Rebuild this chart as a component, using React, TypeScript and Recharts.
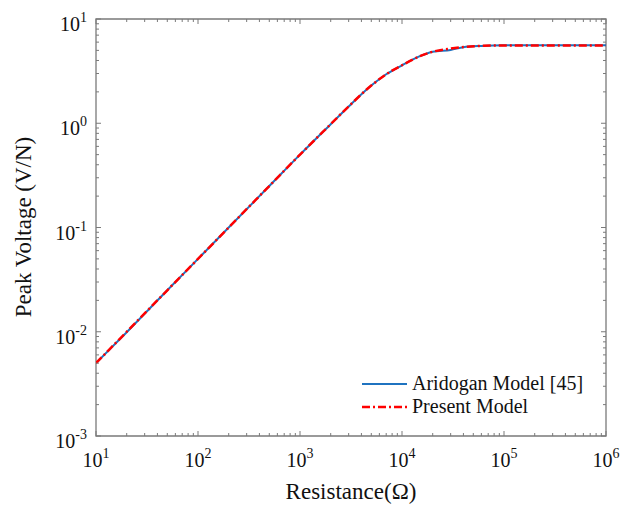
import React from 'react';
import { LineChart, Line, XAxis, YAxis, ReferenceArea } from 'recharts';

// resistance (ohm) and peak voltage (V/N)
const resistance = [10, 20, 50, 100, 200, 500, 1000, 2000, 3000, 5000, 7000, 10000, 15000, 20000, 30000, 40000, 60000, 100000, 200000, 500000, 1000000];
const aridogan = [0.005, 0.0099, 0.025, 0.05, 0.1, 0.25, 0.5, 0.98, 1.45, 2.3, 2.95, 3.6, 4.4, 4.85, 5.05, 5.36, 5.52, 5.6, 5.6, 5.6, 5.6];
const present = [0.005, 0.01, 0.025, 0.05, 0.1, 0.25, 0.5, 0.98, 1.45, 2.3, 2.95, 3.6, 4.4, 4.85, 5.2, 5.38, 5.52, 5.58, 5.58, 5.58, 5.58];

const xDecades = [10, 100, 1000, 10000, 100000, 1000000];
const yDecades = [0.001, 0.01, 0.1, 1, 10];
const minorSteps = [2, 3, 4, 5, 6, 7, 8, 9];
const legendNames = ['Aridogan Model [45]', 'Present Model'];

const withMinor = (decades: number[]) => {
  const out: number[] = [];
  decades.forEach((d, i) => {
    out.push(d);
    if (i < decades.length - 1) minorSteps.forEach((m) => out.push(d * m));
  });
  return out;
};
const xTicks = withMinor(xDecades);
const yTicks = withMinor(yDecades);

const data = resistance.map((r, i) => ({ r, aridogan: aridogan[i], present: present[i] }));

const W = 621;
const H = 511;
const PL = 96;
const PR = 606;
const PT = 19;
const PB = 436;
const AXIS = '#7a7a7a';
const FONT = '"Liberation Serif", "Times New Roman", serif';
const BLUE = '#1f73c0';
const RED = '#ff0000';
const DASH = '8 3 2 3';

const isDecade = (v: number) => {
  const l = Math.log10(v);
  return Math.abs(l - Math.round(l)) < 1e-6;
};

function XTick(props: any) {
  const { x, payload } = props;
  const v = payload.value;
  const major = isDecade(v);
  const len = major ? 5 : 3;
  return (
    <g>
      <line x1={x} x2={x} y1={PB} y2={PB - len} stroke={AXIS} strokeWidth={1} />
      <line x1={x} x2={x} y1={PT} y2={PT + len} stroke={AXIS} strokeWidth={1} />
      {major && (
        <text x={x} y={PB + 31} textAnchor="middle" fontFamily={FONT} fontSize={20} fill="#111">
          <tspan>10</tspan>
          <tspan dy={-9} fontSize={14}>{Math.round(Math.log10(v))}</tspan>
        </text>
      )}
    </g>
  );
}

function YTick(props: any) {
  const { y, payload } = props;
  const v = payload.value;
  const major = isDecade(v);
  const len = major ? 5 : 3;
  return (
    <g>
      <line x1={PL} x2={PL + len} y1={y} y2={y} stroke={AXIS} strokeWidth={1} />
      <line x1={PR} x2={PR - len} y1={y} y2={y} stroke={AXIS} strokeWidth={1} />
      {major && (
        <text x={PL - 9} y={y + 12} textAnchor="end" fontFamily={FONT} fontSize={20} fill="#111">
          <tspan>10</tspan>
          <tspan dy={-9} fontSize={14}>{Math.round(Math.log10(v))}</tspan>
        </text>
      )}
    </g>
  );
}

function LegendBox() {
  const styles = [
    { color: BLUE, dash: undefined as string | undefined, w: 2 },
    { color: RED, dash: DASH, w: 2.5 },
  ];
  return (
    <div style={{ position: 'absolute', left: 362, top: 372, fontFamily: FONT, fontSize: 20, color: '#111' }}>
      {legendNames.map((name, i) => (
        <div key={name} style={{ display: 'flex', alignItems: 'center', height: 23 }}>
          <svg width={50} height={10}>
            <line x1={0} x2={45} y1={5} y2={5} stroke={styles[i].color} strokeWidth={styles[i].w} strokeDasharray={styles[i].dash} />
          </svg>
          <span>{name}</span>
        </div>
      ))}
    </div>
  );
}

export default function App() {
  return (
    <div style={{ position: 'absolute', left: 0, top: 0, width: W, height: H, background: '#fff' }}>
      <LineChart width={W} height={H} data={data} margin={{ top: PT, right: W - PR, bottom: 25, left: 36 }}>
        <XAxis
          dataKey="r"
          type="number"
          scale="log"
          domain={[10, 1000000]}
          allowDataOverflow
          ticks={xTicks}
          interval={0}
          tick={<XTick />}
          tickLine={false}
          axisLine={false}
          height={50}
        />
        <YAxis
          type="number"
          scale="log"
          domain={[0.001, 10]}
          allowDataOverflow
          ticks={yTicks}
          interval={0}
          tick={<YTick />}
          tickLine={false}
          axisLine={false}
          width={60}
        />
        <ReferenceArea x1={10} x2={1000000} y1={0.001} y2={10} fill="none" stroke={AXIS} strokeWidth={1.3} />
        <Line
          type="monotone"
          dataKey="aridogan"
          stroke={BLUE}
          strokeWidth={2}
          dot={false}
          isAnimationActive={false}
        />
        <Line
          type="monotone"
          dataKey="present"
          stroke={RED}
          strokeWidth={2.5}
          strokeDasharray={DASH}
          dot={false}
          isAnimationActive={false}
        />
      </LineChart>
      <LegendBox />
      <div
        style={{
          position: 'absolute',
          left: 0,
          top: 479,
          width: W,
          paddingLeft: PL,
          paddingRight: W - PR,
          boxSizing: 'border-box',
          textAlign: 'center',
          fontFamily: FONT,
          fontSize: 23,
          color: '#111',
        }}
      >
        Resistance(Ω)
      </div>
      <div
        style={{
          position: 'absolute',
          left: 24 - 150,
          top: (PT + PB) / 2 - 14,
          width: 300,
          textAlign: 'center',
          transform: 'rotate(-90deg)',
          fontFamily: FONT,
          fontSize: 23,
          color: '#111',
        }}
      >
        Peak Voltage (V/N)
      </div>
    </div>
  );
}
